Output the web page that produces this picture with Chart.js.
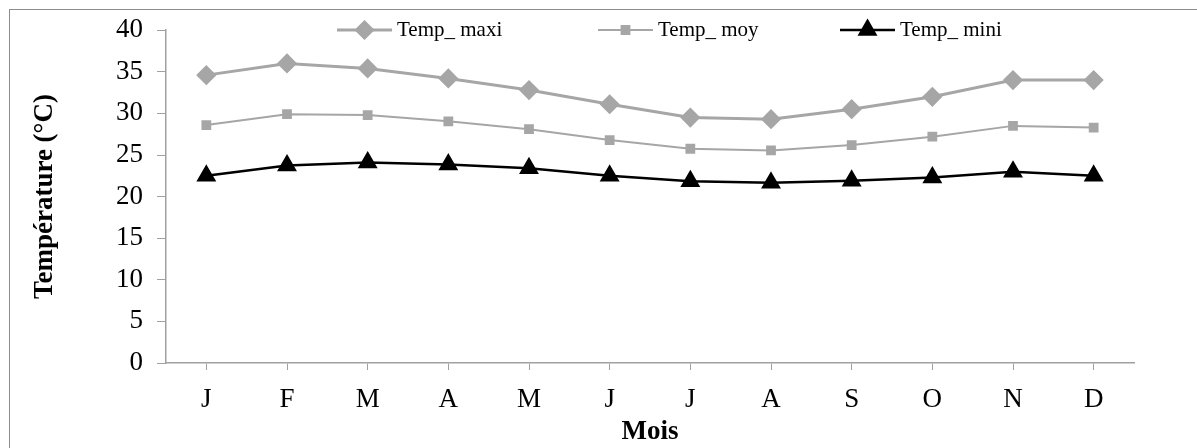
<!DOCTYPE html>
<html>
<head>
<meta charset="utf-8">
<script src="https://cdn.jsdelivr.net/npm/chart.js@4"></script>
<style>
  html, body { margin: 0; padding: 0; background: #fff; }
  canvas { display: block; }
</style>
</head>
<body>
<canvas id="chart" width="1197" height="448"></canvas>
<script>
const months = ['J', 'F', 'M', 'A', 'M', 'J', 'J', 'A', 'S', 'O', 'N', 'D'];
const tempMaxi = [34.6, 36.0, 35.4, 34.2, 32.8, 31.1, 29.5, 29.3, 30.5, 32.0, 34.0, 34.0];
const tempMoy = [28.6, 29.9, 29.8, 29.05, 28.1, 26.8, 25.75, 25.55, 26.2, 27.2, 28.5, 28.3];
const tempMini = [22.5, 23.75, 24.1, 23.85, 23.4, 22.5, 21.85, 21.65, 21.9, 22.3, 23.0, 22.5];
const yTicks = [0, 5, 10, 15, 20, 25, 30, 35, 40];

const FONT = 'Liberation Serif';
const AXIS = '#a0a0a0';

// frame around the whole chart (right/bottom edges fall off the picture)
const framePlugin = {
    id: 'frame',
    beforeDraw(chart) {
        const c = chart.ctx;
        c.save();
        c.strokeStyle = '#8c8c8c';
        c.lineWidth = 1;
        c.strokeRect(9.5, 9.5, 1300, 1300);
        c.restore();
    }
};

// legend drawn as line + marker + text, like the office chart
const lineLegend = {
    id: 'lineLegend',
    afterDraw(chart, args, opts) {
        const c = chart.ctx;
        c.save();
        chart.data.datasets.forEach((ds, i) => {
            const x0 = opts.starts[i];
            const y = opts.y;
            c.strokeStyle = ds.borderColor;
            c.lineWidth = ds.borderWidth;
            c.beginPath();
            c.moveTo(x0, y);
            c.lineTo(x0 + opts.lineLen, y);
            c.stroke();
            c.fillStyle = ds.pointBackgroundColor;
            c.strokeStyle = ds.pointBorderColor;
            Chart.helpers.drawPoint(c, {
                pointStyle: ds.pointStyle,
                radius: ds.pointRadius,
                borderWidth: 1,
                rotation: 0
            }, x0 + opts.lineLen / 2, y);
            c.fillStyle = '#000';
            c.font = opts.fontSize + 'px "' + FONT + '"';
            c.textBaseline = 'middle';
            c.textAlign = 'left';
            c.fillText(ds.label, x0 + opts.lineLen + 5, y);
        });
        c.restore();
    }
};

const data = {
    labels: months,
    datasets: [
        {
            label: 'Temp_ maxi',
            data: tempMaxi,
            borderColor: '#a6a6a6',
            borderWidth: 3,
            pointStyle: 'rectRot',
            pointRadius: 8,
            pointBackgroundColor: '#a6a6a6',
            pointBorderColor: '#a6a6a6'
        },
        {
            label: 'Temp_ moy',
            data: tempMoy,
            borderColor: '#a6a6a6',
            borderWidth: 2,
            pointStyle: 'rect',
            pointRadius: 5.5,
            pointBackgroundColor: '#a6a6a6',
            pointBorderColor: '#a6a6a6'
        },
        {
            label: 'Temp_ mini',
            data: tempMini,
            borderColor: '#000000',
            borderWidth: 2.5,
            pointStyle: 'triangle',
            pointRadius: 9,
            pointBackgroundColor: '#000000',
            pointBorderColor: '#000000'
        }
    ]
};

const options = {
    responsive: false,
    animation: false,
    layout: {
        padding: { left: 0, right: 63, top: 28, bottom: 0 }
    },
    scales: {
        x: {
            offset: true,
            grid: {
                offset: false,
                drawOnChartArea: false,
                drawTicks: true,
                tickLength: 7,
                color: AXIS
            },
            border: { color: AXIS, width: 1.5 },
            ticks: {
                color: '#000',
                padding: 14,
                maxRotation: 0,
                font: { family: FONT, size: 27 }
            },
            title: {
                display: true,
                text: 'Mois',
                color: '#000',
                padding: { top: 0, bottom: 0 },
                font: { family: FONT, size: 27, weight: 'bold' }
            },
            afterFit(scale) { scale.height = 85; }
        },
        y: {
            min: 0,
            max: 40,
            afterBuildTicks(scale) {
                scale.ticks = yTicks.map(v => ({ value: v }));
            },
            grid: {
                drawOnChartArea: false,
                drawTicks: true,
                tickLength: 9,
                color: AXIS
            },
            border: { color: AXIS, width: 1.5 },
            ticks: {
                color: '#000',
                padding: 14,
                font: { family: FONT, size: 27 }
            },
            title: {
                display: true,
                text: 'Température (°C)',
                color: '#000',
                padding: { top: 29, bottom: 0 },
                font: { family: FONT, size: 27, weight: 'bold' }
            },
            afterFit(scale) { scale.width = 166; }
        }
    },
    plugins: {
        legend: { display: false },
        tooltip: { enabled: false },
        lineLegend: {
            starts: [337, 598, 840],
            lineLen: 55,
            y: 30,
            fontSize: 21
        }
    }
};

new Chart(document.getElementById('chart').getContext('2d'), {
    type: 'line',
    data: data,
    options: options,
    plugins: [framePlugin, lineLegend]
});
</script>
</body>
</html>
